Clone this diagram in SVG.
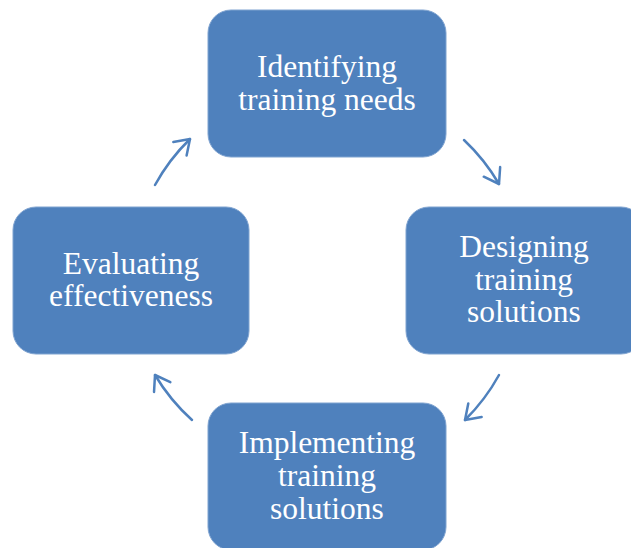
<svg xmlns="http://www.w3.org/2000/svg" width="631" height="548" viewBox="0 0 631 548">
<style>
.box{fill:#4F81BD;stroke:#7FA3D0;stroke-width:1}
.lbl{font-family:"Liberation Serif","Times New Roman",serif;font-size:31.5px;fill:#FFFFFF;text-anchor:middle}
.arc{fill:none;stroke:#4F81BD;stroke-width:2.5;stroke-linecap:round}
</style>
<defs>
<marker id="head" markerUnits="userSpaceOnUse" markerWidth="30" markerHeight="30" refX="0" refY="0" orient="auto" overflow="visible" viewBox="-20 -15 30 30">
<path d="M -14 -9.5 L 0 0 L -14 9.5" fill="none" stroke="#4F81BD" stroke-width="2.5" stroke-linecap="round" stroke-linejoin="round"/>
</marker>
</defs>
<rect width="631" height="548" fill="#FFFFFF"/>
<g id="connectors">
<path class="arc" d="M 464 140 A 196 196 0 0 1 499 184" marker-end="url(#head)"/>
<path class="arc" d="M 499 375 A 196 196 0 0 1 465 420" marker-end="url(#head)"/>
<path class="arc" d="M 192 420 A 196 196 0 0 1 155 375" marker-end="url(#head)"/>
<path class="arc" d="M 155 185 A 196 196 0 0 1 190 139" marker-end="url(#head)"/>
</g>
<g id="identifying">
<rect class="box" x="208" y="10" width="238" height="147" rx="23"/>
<text class="lbl" x="327" y="77">Identifying</text>
<text class="lbl" x="327" y="110">training needs</text>
</g>
<g id="designing">
<rect class="box" x="406" y="207" width="238" height="147" rx="23"/>
<text class="lbl" x="524" y="257">Designing</text>
<text class="lbl" x="524" y="290">training</text>
<text class="lbl" x="524" y="322">solutions</text>
</g>
<g id="implementing">
<rect class="box" x="208" y="403" width="238" height="147" rx="23"/>
<text class="lbl" x="327" y="453">Implementing</text>
<text class="lbl" x="327" y="486">training</text>
<text class="lbl" x="327" y="519">solutions</text>
</g>
<g id="evaluating">
<rect class="box" x="13" y="207" width="236" height="147" rx="23"/>
<text class="lbl" x="131" y="274">Evaluating</text>
<text class="lbl" x="131" y="306">effectiveness</text>
</g>
</svg>
